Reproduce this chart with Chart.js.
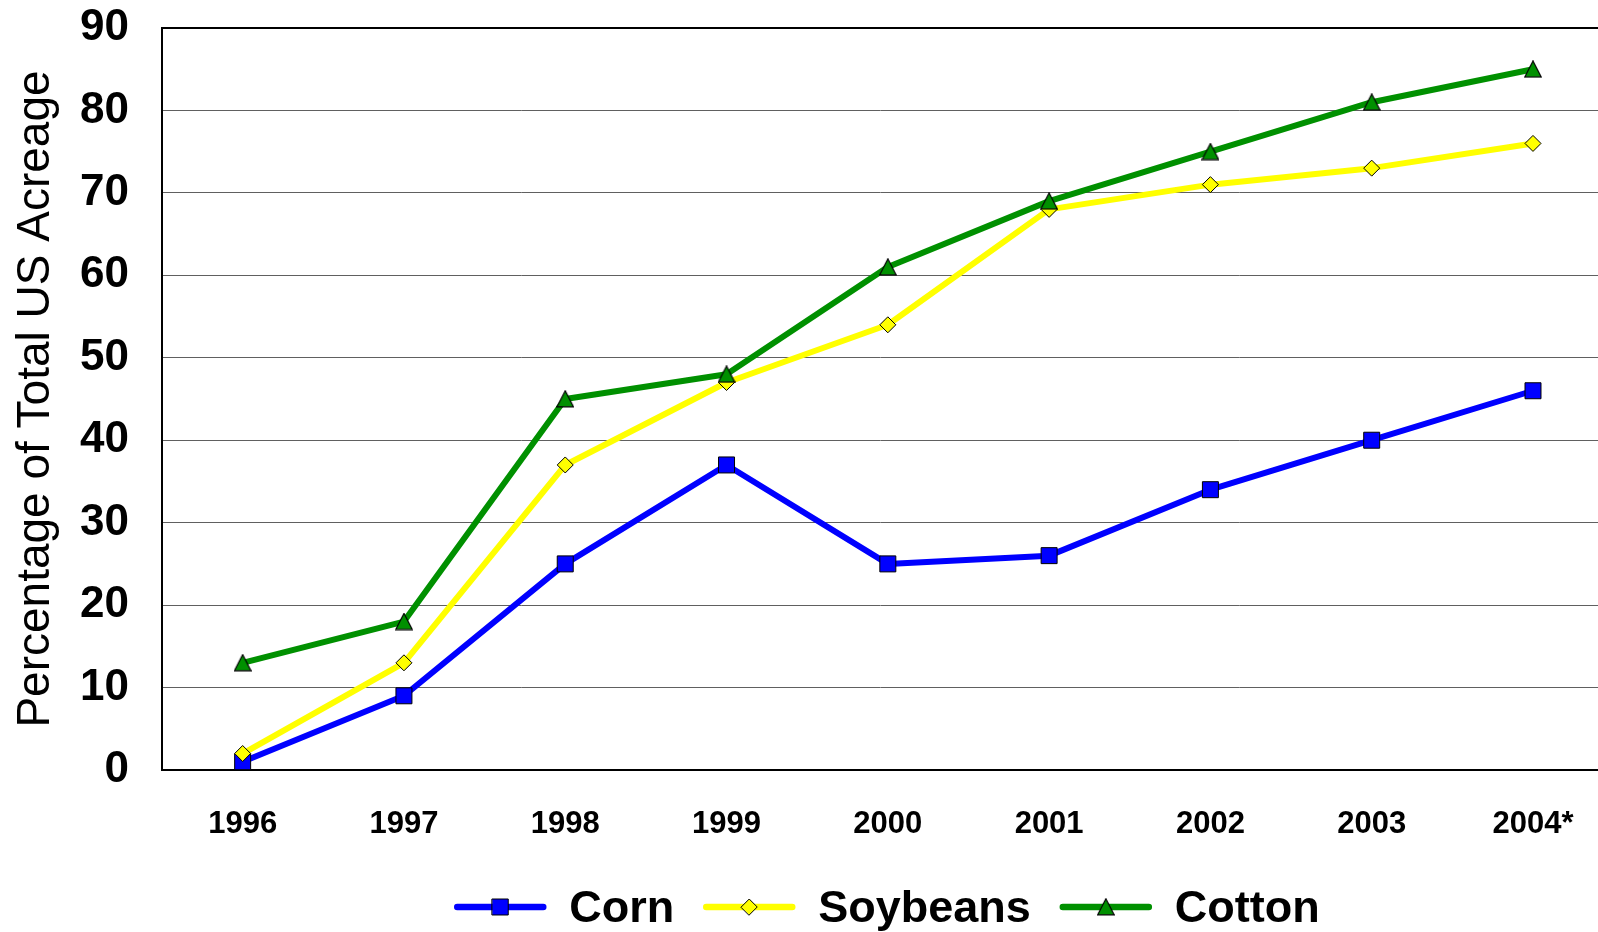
<!DOCTYPE html>
<html>
<head>
<meta charset="utf-8">
<script src="https://cdn.jsdelivr.net/npm/chart.js@4/dist/chart.umd.min.js"></script>
<style>
  html, body { margin: 0; padding: 0; background: #fff; overflow: hidden; width: 1598px; height: 932px; }
  #wrap { position: absolute; left: 0; top: 0; width: 1598px; height: 932px; }
</style>
</head>
<body>
<div id="wrap"><canvas id="c" width="1598" height="932"></canvas></div>
<script>
const years = ['1996', '1997', '1998', '1999', '2000', '2001', '2002', '2003', '2004*'];
const corn = [1, 9, 25, 37, 25, 26, 34, 40, 46];
const soybeans = [2, 13, 37, 47, 54, 68, 71, 73, 76];
const cotton = [13, 18, 45, 48, 61, 69, 75, 81, 85];
const yAxisTitle = 'Percentage of Total US Acreage';

const FONT = '"Liberation Sans", Arial, Helvetica, sans-serif';

function makeTriangle(fill) {
  const s = 18;
  const c = document.createElement('canvas');
  c.width = s; c.height = s;
  const g = c.getContext('2d');
  g.beginPath();
  g.moveTo(s / 2, 0.8);
  g.lineTo(s - 0.8, s - 1.2);
  g.lineTo(0.8, s - 1.2);
  g.closePath();
  g.fillStyle = fill;
  g.fill();
  g.strokeStyle = '#000';
  g.lineWidth = 1.2;
  g.stroke();
  return c;
}
const cottonTri = makeTriangle('#009000');

function drawMarker(ctx, style, x, y, r, fill) {
  ctx.save();
  if (typeof style !== 'string') {
    ctx.drawImage(style, x - style.width / 2, y - style.height / 2);
    ctx.restore();
    return;
  }
  ctx.fillStyle = fill;
  ctx.strokeStyle = '#000';
  ctx.lineWidth = 1;
  ctx.beginPath();
  if (style === 'rect') {
    const s = r * Math.SQRT1_2;
    ctx.rect(x - s, y - s, 2 * s, 2 * s);
  } else {
    ctx.moveTo(x - r, y); ctx.lineTo(x, y - r); ctx.lineTo(x + r, y); ctx.lineTo(x, y + r); ctx.closePath();
  }
  ctx.fill();
  ctx.stroke();
  ctx.restore();
}

const lineLegend = {
  id: 'lineLegend',
  afterDraw(chart) {
    const ctx = chart.ctx;
    const lineLen = 92, gapText = 23, gapItem = 29;
    ctx.save();
    ctx.font = 'bold 45px ' + FONT;
    const dsList = chart.data.datasets.slice().sort((a, b) => a.legendIndex - b.legendIndex);
    const items = dsList.map(ds => ({ ds, w: ctx.measureText(ds.label).width }));
    const total = items.reduce((s, it) => s + lineLen + gapText + it.w, 0) + gapItem * (items.length - 1);
    let x = 887 - total / 2;
    const y = 907;
    items.forEach(it => {
      ctx.strokeStyle = it.ds.borderColor;
      ctx.lineWidth = 6.5;
      ctx.lineCap = 'round';
      ctx.beginPath();
      ctx.moveTo(x + 3, y);
      ctx.lineTo(x + lineLen - 3, y);
      ctx.stroke();
      drawMarker(ctx, it.ds.pointStyle, x + lineLen / 2, y, it.ds.pointRadius, it.ds.pointBackgroundColor);
      ctx.fillStyle = '#000';
      ctx.textAlign = 'left';
      ctx.textBaseline = 'middle';
      ctx.fillText(it.ds.label, x + lineLen + gapText, y + 3);
      x += lineLen + gapText + it.w + gapItem;
    });
    ctx.restore();
  }
};

const toXY = arr => arr.map((v, i) => ({ x: i, y: v }));

new Chart(document.getElementById('c'), {
  type: 'line',
  data: {
    datasets: [
      {
        label: 'Corn', data: toXY(corn), legendIndex: 0, order: 3,
        borderColor: '#0000FF', borderWidth: 6,
        pointStyle: 'rect', pointRadius: 11.3, pointBackgroundColor: '#0000FF',
        pointBorderColor: '#000', pointBorderWidth: 1, tension: 0
      },
      {
        label: 'Soybeans', data: toXY(soybeans), legendIndex: 1, order: 2,
        borderColor: '#FFFF00', borderWidth: 6,
        pointStyle: 'rectRot', pointRadius: 8, pointBackgroundColor: '#FFFF00',
        pointBorderColor: '#000', pointBorderWidth: 1, tension: 0
      },
      {
        label: 'Cotton', data: toXY(cotton), legendIndex: 2, order: 1,
        borderColor: '#009000', borderWidth: 6,
        pointStyle: cottonTri, pointRadius: 9, pointBackgroundColor: '#009000',
        pointBorderColor: '#000', pointBorderWidth: 1, tension: 0
      }
    ]
  },
  options: {
    responsive: false,
    animation: false,
    devicePixelRatio: 1,
    layout: { autoPadding: false, padding: { left: 0, right: 0, top: 28, bottom: 0 } },
    plugins: {
      legend: { display: false },
      tooltip: { enabled: false },
      title: { display: false }
    },
    elements: { line: { borderCapStyle: 'round', borderJoinStyle: 'round' } },
    scales: {
      x: {
        type: 'linear',
        min: -0.5, max: 8.403,
        grid: { display: false, drawTicks: false },
        border: { display: true, color: '#000', width: 2 },
        afterBuildTicks(scale) { scale.ticks = years.map((_, i) => ({ value: i })); },
        ticks: {
          color: '#000', padding: 36, maxRotation: 0, autoSkip: false,
          font: { family: FONT, size: 31, weight: 'bold' },
          callback: v => years[v]
        },
        afterFit(scale) { scale.height = 162; scale.paddingLeft = 0; scale.paddingRight = 0; }
      },
      y: {
        min: 0, max: 90,
        grid: {
          drawTicks: false,
          color: ctx => (ctx.tick && (ctx.tick.value === 90 || ctx.tick.value === 0)) ? '#000' : '#606060',
          lineWidth: ctx => (ctx.tick && (ctx.tick.value === 90)) ? 2 : 1
        },
        border: { display: true, color: '#000', width: 2 },
        ticks: {
          stepSize: 10, color: '#000', padding: 33,
          font: { family: FONT, size: 44, weight: 'bold' }
        },
        title: {
          display: true, text: yAxisTitle, color: '#000',
          font: { family: FONT, size: 46, weight: 'normal' },
          padding: { top: 9, bottom: 0 }
        },
        afterFit(scale) { scale.width = 162; scale.paddingTop = 0; scale.paddingBottom = 0; }
      }
    }
  },
  plugins: [lineLegend]
});
</script>
</body>
</html>
